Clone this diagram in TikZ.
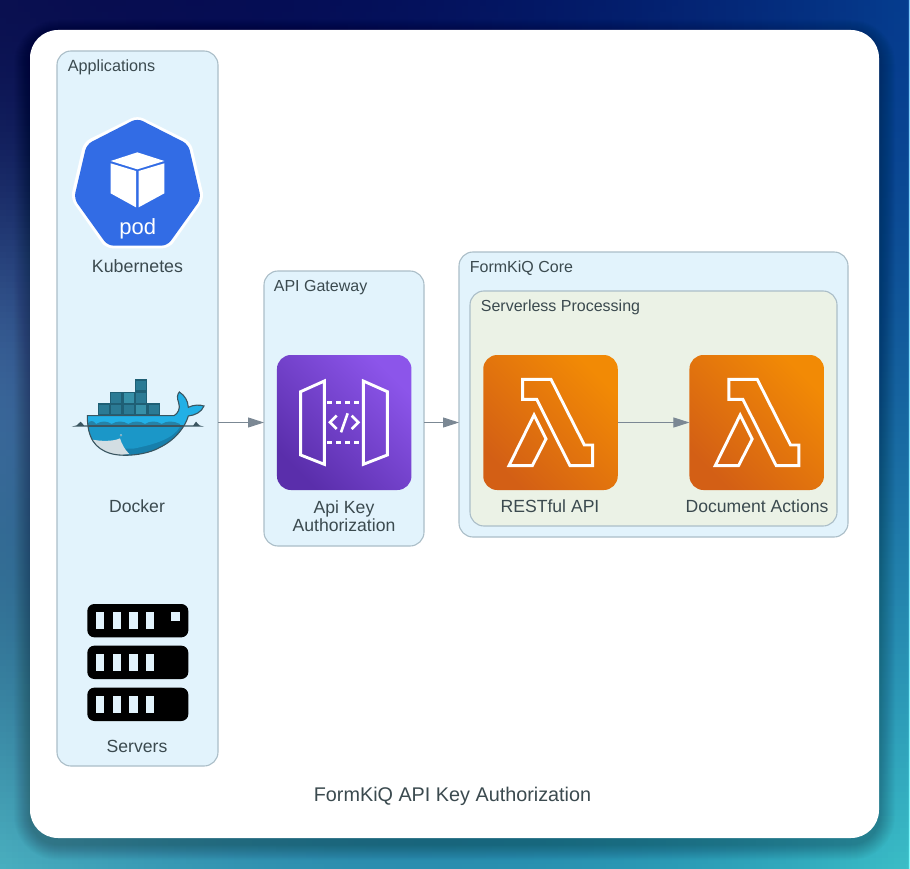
\documentclass[tikz,border=0pt]{standalone}
\usepackage{fontspec}
\setmainfont{Liberation Sans}
\usetikzlibrary{arrows.meta}
\definecolor{clfill}{HTML}{E2F3FC}
\definecolor{clline}{HTML}{ABBEC8}
\definecolor{clgreen}{HTML}{EBF2E6}
\definecolor{txt}{HTML}{3B4A4F}
\definecolor{edgec}{HTML}{7B8894}
\definecolor{kblue}{HTML}{326CE5}
\definecolor{dkline}{HTML}{3A5560}
\definecolor{dkbox}{HTML}{2B7A94}
\definecolor{dkboxb}{HTML}{3790A8}
\definecolor{dkframe}{HTML}{1F5F75}
\definecolor{whaletop}{HTML}{22B0E6}
\definecolor{whalemid}{HTML}{1B97C8}
\definecolor{whalelow}{HTML}{177FAC}
\definecolor{whalebelly}{HTML}{D3DEE3}
\tikzset{
  cluster/.style={draw=clline,line width=1.1pt,fill=clfill,rounded corners=14pt,inner sep=0pt,outer sep=0pt},
  clusterg/.style={cluster,fill=clgreen},
  clabel/.style={text=txt,font=\fontsize{16}{18}\selectfont,anchor=base west,inner sep=0pt},
  ilabel/.style={text=txt,font=\fontsize{17.6}{18}\selectfont,anchor=base,inner sep=0pt},
  awsicon/.style={rounded corners=14pt,minimum width=134.5pt,minimum height=135pt,inner sep=0pt,outer sep=0pt},
  purpleicon/.style={awsicon,bottom color=purpleA,top color=purpleB,shading angle=-45},
  orangeicon/.style={awsicon,bottom color=orangeA,top color=orangeB,shading angle=-45},
  glyph/.style={draw=white,line width=2.9pt,line join=miter},
  flow/.style={draw=edgec,line width=1pt,-{Triangle[length=16pt,width=10pt,fill=edgec]}},
}
\definecolor{purpleA}{HTML}{5A2EAB}
\definecolor{purpleB}{HTML}{8C55EA}
\definecolor{orangeA}{HTML}{D35F15}
\definecolor{orangeB}{HTML}{F28A05}
\def\whalepath{(82,137)--(342,137) .. controls (354,130) and (362,116) .. (356,98)
     .. controls (350,84) and (352,72) .. (358,66)
     .. controls (374,76) and (384,92) .. (385,112)
     .. controls (400,104) and (420,104) .. (432,108)
     .. controls (425,126) and (405,136) .. (385,138)
     .. controls (375,172) and (345,210) .. (300,232)
     .. controls (260,255) and (190,262) .. (150,250)
     .. controls (105,235) and (82,205) .. (82,137) -- cycle}
\begin{document}
\begin{tikzpicture}[x=1pt,y=-1pt]
\useasboundingbox (0,0) rectangle (910,869);
% background gradient, only the ring round the card is visible
\foreach \ix in {0,...,151}{\foreach \iy in {0,...,144}{%
  \pgfmathtruncatemacro\cellskip{and(and(\ix>9,\ix<141),and(\iy>9,\iy<134))}%
  \ifnum\cellskip=0
    \pgfmathsetmacro\vt{\iy*6/869}%
    \pgfmathsetmacro\vs{min(1,\ix*6/910)}%
    \pgfmathsetmacro\vp{\vt*sqrt(\vt)}%
    \pgfmathsetmacro\vg{exp(-(\vt-.42)*(\vt-.42)*25)}%
    \pgfmathsetmacro\wa{(1-\vs)*(1-\vs)}%
    \pgfmathsetmacro\wb{2*\vs*(1-\vs)}%
    \pgfmathsetmacro\wc{\vs*\vs}%
    \pgfmathtruncatemacro\cr{min(255,\wa*(10+64*\vp+28*\vg)+\wb*(17*\vp)+\wc*(6+54*\vp))}%
    \pgfmathtruncatemacro\cg{min(255,\wa*(16+160*\vp+36*\vg)+\wb*(104*\vp)+\wc*(62+130*\vp))}%
    \pgfmathtruncatemacro\cb{min(255,\wa*(80+112*\vp+38*\vg)+\wb*(78+78*\vp)+\wc*(144+56*\vp))}%
    \definecolor{cellc}{RGB}{\cr,\cg,\cb}%
    \fill[cellc] (\ix*6,\iy*6) rectangle ++(6.6,6.6);
  \fi
}}
% light line on the right edge
\shade[top color=blue!40!cyan!50!white,bottom color=cyan!50!white] (908.8,0) rectangle (910,869);
% card shadow
\foreach \i in {1,...,16}{
  \pgfmathsetmacro\rr{28+\i}
  \fill[black,opacity=.016,rounded corners=\rr pt] (30-\i,36-\i) rectangle (879+\i,844+\i);
}
% card
\node[fill=white,rounded corners=28pt,minimum width=849pt,minimum height=808pt,inner sep=0pt,outer sep=0pt] (card) at (454.5,434) {};
% clusters
\node[cluster,minimum width=161pt,minimum height=715pt] (apps) at (137.5,408.5) {};
\node[cluster,minimum width=160pt,minimum height=275pt] (gw) at (344,408.5) {};
\node[cluster,minimum width=389pt,minimum height=285pt] (core) at (653.5,394.5) {};
\node[clusterg,minimum width=367pt,minimum height=235pt] (proc) at (653.5,408.5) {};
\node[clabel,font=\fontsize{16.2}{18}\selectfont] (appsl) at (67.7,71.5) {Applications};
\node[clabel] (gwl) at (273.7,291) {API Gateway};
\node[clabel] (corel) at (469.7,272) {FormKiQ Core};
\node[clabel] (procl) at (480.7,311) {Serverless Processing};
% Kubernetes pod icon
\begin{scope}[shift={(50,100)},scale=1/3]
  \fill[white,rounded corners=7pt] (262,46)--(423,126)--(463,296)--(358,445)--(167,445)--(62,296)--(101,126)--cycle;
  \fill[kblue,rounded corners=6pt] (262,55)--(415,133)--(453,296)--(352,437)--(173,437)--(72,296)--(110,133)--cycle;
  \fill[white] (262,157)--(343,183)--(262,208)--(182,183)--cycle;
  \fill[white] (182,190)--(258,213)--(258,322)--(182,280)--cycle;
  \fill[white] (266,213)--(343,190)--(343,280)--(266,322)--cycle;
  \node[text=white,font=\fontsize{22}{24}\selectfont,anchor=base,inner sep=0pt] (podt) at (263,405) {pod};
\end{scope}
\node[ilabel,font=\fontsize{17.8}{18}\selectfont] (k8sl) at (137.5,272) {Kubernetes};
% Docker whale
\begin{scope}[shift={(60,370)},scale=1/3]
  \foreach \x/\y/\c in {113/100/dkbox,150/100/dkbox,187/100/dkbox,224/100/dkboxb,262/100/dkbox,
                        150/65/dkbox,187/65/dkboxb,224/65/dkbox,224/28/dkbox}{
    \fill[dkframe] (\x,\y) rectangle ++(38,37);
    \fill[\c] (\x+4,\y+5) rectangle ++(30,28);
  }
  \fill[dkline] (35,170)--(50,166)--(62,155)--(72,166)--(90,166)--(400,166)--(408,155)--(418,166)--(432,170)--cycle;
  \fill[whaletop] \whalepath;
  \begin{scope}
    \clip \whalepath;
    \fill[whalelow] (70,170) rectangle (400,270);
    \fill[whalemid] (70,170) -- (360,170) .. controls (340,205) and (290,222) .. (220,236) -- (70,236) -- cycle;
    \fill[whalemid!70!dkline] (82,162) .. controls (90,150) and (100,150) .. (108,162)
      .. controls (125,152) and (140,152) .. (155,162)
      .. controls (170,152) and (190,152) .. (205,162)
      .. controls (220,152) and (240,152) .. (255,162)
      .. controls (270,152) and (290,152) .. (305,162)
      .. controls (320,152) and (340,152) .. (360,162) -- (360,170) -- (82,170) -- cycle;
    \fill[dkline] (70,166) rectangle (400,170);
    \fill[whalebelly] (92,208) .. controls (120,214) and (160,215) .. (180,205)
       .. controls (185,222) and (195,240) .. (208,252) -- (130,262) -- (90,225) -- cycle;
  \end{scope}
  \draw[dkline,line width=1.1pt] \whalepath;
  \fill[white!85!cyan] (183,196) circle (3.3pt);
  \fill[dkline] (183,196) circle (1.8pt);
\end{scope}
\node[ilabel] (dockl) at (137,512) {Docker};
% Servers
\begin{scope}[shift={(70,590)},scale=1/3]
  \foreach \y in {42,167,293}{
    \fill[black,rounded corners=7pt] (52,\y) rectangle (355,\y+100);
    \foreach \x in {78,128,178,228}{
      \fill[clfill] (\x,\y+24) rectangle ++(25,52);
    }
  }
  \fill[clfill] (304,66) rectangle (330,92);
\end{scope}
\node[ilabel] (servl) at (137,752) {Servers};
% API gateway icon
\node[purpleicon] (gwi) at (344.2,422.5) {};
\begin{scope}[shift={(265,345)},scale=1/3]
  \draw[glyph] (178,108)--(178,358)--(107,330)--(107,140)--cycle;
  \draw[glyph] (295,108)--(367,140)--(367,330)--(295,358)--cycle;
  \draw[white,line width=2.9pt,dash pattern=on 5pt off 4pt] (186,173)--(292,173);
  \draw[white,line width=2.9pt,dash pattern=on 5pt off 4pt] (186,292)--(292,292);
  \draw[glyph,line width=2.6pt] (215,212)--(195,232)--(215,252);
  \draw[glyph,line width=2.6pt] (260,212)--(280,232)--(260,252);
  \draw[glyph,line width=2.6pt] (248,205)--(228,262);
\end{scope}
\node[ilabel] (gwa) at (344,513) {Api Key};
\node[ilabel] (gwb) at (344,531) {Authorization};
% Lambda icons
\node[orangeicon] (la) at (550.5,422.5) {};
\node[orangeicon] (lb) at (756.7,422.5) {};
\foreach \dx in {0,206.2}{
\begin{scope}[shift={(475+\dx,345)},scale=1/3]
  \draw[glyph] (143,103)--(228,103)--(328,300)--(353,300)--(353,362)--(285,362)--(185,163)--(143,163)--cycle;
  \draw[glyph] (177,210)--(213,282)--(172,362)--(102,362)--cycle;
\end{scope}
}
\node[ilabel] (lal) at (550,512) {RESTful API};
\node[ilabel] (lbl) at (757,512) {Document Actions};
% connectors
\draw[flow] (apps.east |- gwi.center) -- (gw.west |- gwi.center);
\draw[flow] (gw.east |- gwi.center) -- (core.west |- gwi.center);
\draw[flow] (la.east) -- (lb.west);
% title
\node[text=txt,font=\fontsize{19.8}{22}\selectfont,anchor=base,inner sep=0pt] (title) at (452.5,801) {FormKiQ API Key Authorization};
\end{tikzpicture}
\end{document}
